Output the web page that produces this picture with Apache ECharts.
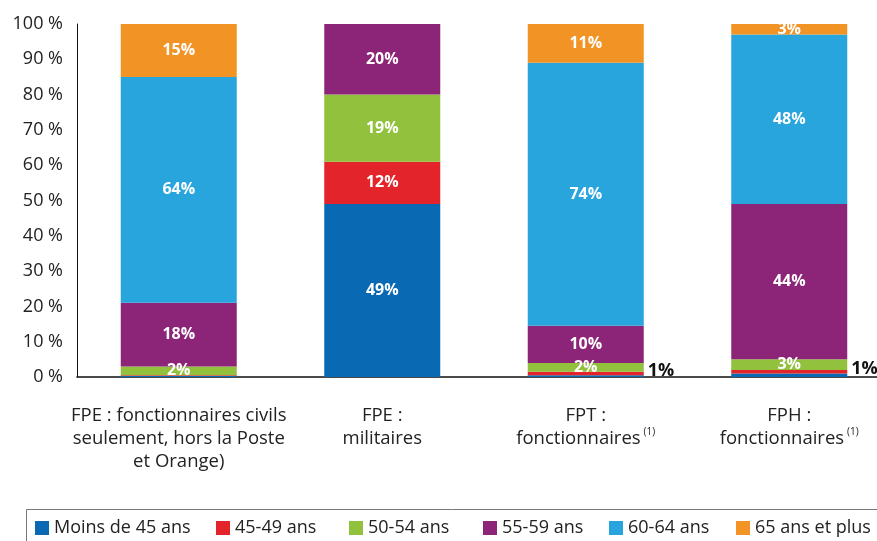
<!DOCTYPE html>
<html>
<head>
<meta charset="utf-8">
<script src="https://cdn.jsdelivr.net/npm/echarts@6/dist/echarts.min.js"></script>
<style>
  html, body { margin: 0; padding: 0; background: #fff; }
  #chart { width: 877px; height: 541px; }
</style>
</head>
<body>
<div id="chart"></div>
<script>
// catégories (axe x)
const categories = [
  'FPE : fonctionnaires civils\nseulement, hors la Poste\net Orange)',
  'FPE :\nmilitaires',
  'FPT :\nfonctionnaires{sup|(1)}',
  'FPH :\nfonctionnaires{sup|(1)}'
]
const yTicks = [0, 10, 20, 30, 40, 50, 60, 70, 80, 90, 100]

// valeurs (%)
const moins45 = [0.3, 49, 0.5, 1]
const a45_49 = [0.2, 12, 1, 1]
const a50_54 = [2.5, 19, 2.5, 3]
const a55_59 = [18, 20, 10.5, 44]
const a60_64 = [64, 0, 74.5, 48]
const a65plus = [15, 0, 11, 3]

// étiquettes affichées
const lblMoins45 = ['', '49%', '', '']
const lbl45_49 = ['', '12%', '', '']
const lblOut45_49 = ['', '', '1%', '1%']
const lbl50_54 = ['2%', '19%', '2%', '3%']
const lbl55_59 = ['18%', '20%', '10%', '44%']
const lbl60_64 = ['64%', '', '74%', '48%']
const lbl65plus = ['15%', '', '11%', '3%']

const names = ['Moins de 45 ans', '45-49 ans', '50-54 ans', '55-59 ans', '60-64 ans', '65 ans et plus']
const colors = ['#0a69b3', '#e3242b', '#92c13e', '#8c2478', '#29a5de', '#f29325']

const chart = echarts.init(document.getElementById('chart'))
const font = "'Open Sans', 'Noto Sans', sans-serif"

function inLabel(arr) {
  return {
    show: true,
    position: 'inside',
    color: '#fff',
    fontWeight: 'bold',
    fontSize: 16,
    fontFamily: font,
    formatter: (p) => arr[p.dataIndex]
  }
}

function mkSeries(i, data, labels) {
  return {
    name: names[i],
    type: 'bar',
    stack: 'total',
    barWidth: 116,
    data: data,
    itemStyle: { color: colors[i] },
    label: inLabel(labels)
  }
}

const series = [
  mkSeries(0, moins45, lblMoins45),
  mkSeries(1, a45_49, lbl45_49),
  mkSeries(2, a50_54, lbl50_54),
  mkSeries(3, a55_59, lbl55_59),
  mkSeries(4, a60_64, lbl60_64),
  mkSeries(5, a65plus, lbl65plus)
]
// 45-49 ans : 12% dedans, "1%" à droite des barres FPT / FPH
series[1].data = a45_49.map((v, i) => {
  if (lblOut45_49[i]) {
    return {
      value: v,
      label: {
        show: true,
        position: 'right',
        distance: 4,
        offset: [0, -3],
        color: '#111',
        fontWeight: 'bold',
        fontSize: 18,
        fontFamily: font,
        formatter: lblOut45_49[i]
      }
    }
  }
  return v
})

// légendes séparées pour coller aux positions
const legendLeft = [30, 211, 344, 478, 604, 731]
const legends = names.map((n, i) => ({
  data: [n],
  left: legendLeft[i],
  top: 514,
  icon: 'rect',
  itemWidth: 14,
  itemHeight: 14,
  itemGap: 0,
  textStyle: { fontSize: 18, color: '#222', fontFamily: font },
  selectedMode: false
}))

chart.setOption({
  animation: false,
  color: colors,
  textStyle: { fontFamily: font },
  grid: { left: 77, right: -14, top: 24, bottom: 164, outerBoundsMode: 'none', containLabel: false },
  legend: legends,
  graphic: [{
    type: 'rect',
    left: 24, top: 507,
    shape: { width: 900, height: 60 },
    style: { fill: 'none', stroke: '#777', lineWidth: 1 },
    silent: true
  }],
  xAxis: {
    type: 'category',
    data: categories,
    axisLine: { show: true, lineStyle: { color: '#111', width: 1.5 } },
    axisTick: { show: false },
    axisLabel: {
      interval: 0,
      margin: 27,
      fontSize: 18.5,
      color: '#222',
      lineHeight: 23,
      fontFamily: font,
      rich: {
        sup: { fontSize: 10, color: '#222', verticalAlign: 'top', padding: [0, 0, 8, 3], fontFamily: font }
      }
    }
  },
  yAxis: {
    type: 'value',
    min: 0,
    max: 100,
    interval: 10,
    axisLine: { show: true, lineStyle: { color: '#111', width: 1 } },
    axisTick: { show: false },
    splitLine: { show: false },
    axisLabel: {
      margin: 14,
      fontSize: 18,
      color: '#222',
      fontFamily: font,
      formatter: (v) => (yTicks.includes(v) ? v + ' %' : '')
    }
  },
  series: series
})
</script>
</body>
</html>
